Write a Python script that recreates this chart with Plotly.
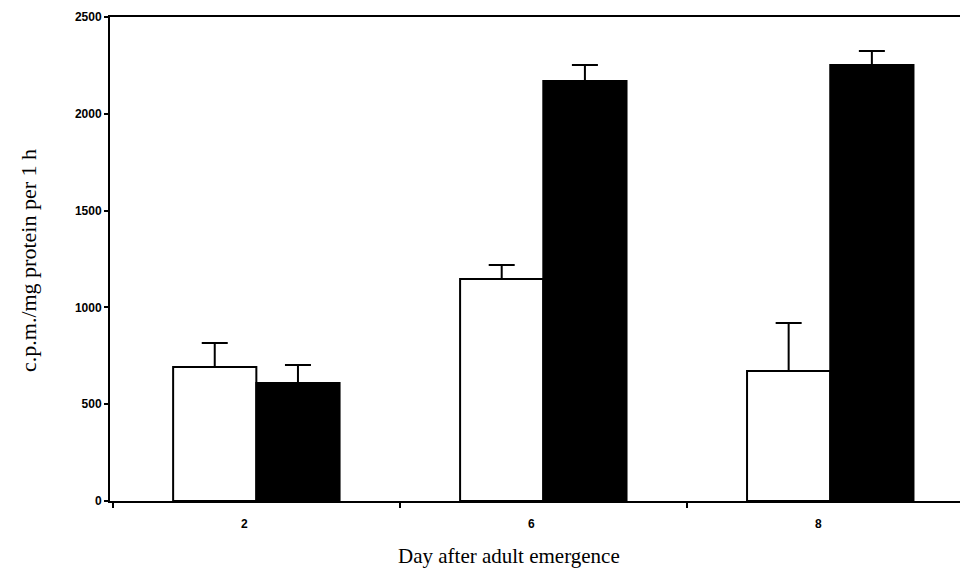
import plotly.graph_objects as go

days = ["2", "6", "8"]
open_vals = [692, 1147, 671]
open_err = [124, 72, 248]
filled_vals = [609, 2169, 2252]
filled_err = [93, 83, 72]
y_ticks = [0, 500, 1000, 1500, 2000, 2500]

err_style = dict(type="data", symmetric=False, color="black", thickness=2, width=13)

fig = go.Figure()
fig.add_trace(go.Bar(
    x=days, y=open_vals, name="open",
    marker=dict(color="white", line=dict(color="black", width=2)),
    error_y=dict(array=open_err, arrayminus=[0] * len(open_err), **err_style),
))
fig.add_trace(go.Bar(
    x=days, y=filled_vals, name="filled",
    marker=dict(color="black", line=dict(color="black", width=2)),
    error_y=dict(array=filled_err, arrayminus=[0] * len(filled_err), **err_style),
))

# page body has an 8px default margin; figure is sized/offset to compensate
L, T, B = 110, 17, 501
OFF = 8
fig.update_layout(
    width=968 - OFF, height=572 - OFF,
    margin=dict(l=L - OFF, r=0, t=T - OFF, b=572 - B),
    paper_bgcolor="white", plot_bgcolor="white",
    barmode="group", bargap=0.42, bargroupgap=0,
    showlegend=False,
    font=dict(family="Liberation Serif", color="black"),
    annotations=[
        dict(text="Day after adult emergence", xref="paper", yref="paper",
             x=(509 - L) / 858, y=-(556 - B) / (B - T), xanchor="center", yanchor="middle",
             showarrow=False, font=dict(size=21, family="Liberation Serif", color="black")),
        dict(text="c.p.m./mg protein per 1 h", xref="paper", yref="paper",
             x=-(L - 28) / 858, y=(B - 261) / (B - T), xanchor="center", yanchor="middle",
             textangle=-90, showarrow=False,
             font=dict(size=22, family="Liberation Serif", color="black")),
    ],
)
fig.update_xaxes(
    type="category", range=[-0.51, 2.48], automargin=False,
    showline=True, linecolor="black", linewidth=2, mirror=True,
    ticks="outside", ticklen=5, tickcolor="black", tickwidth=1.5,
    tickson="boundaries", showgrid=False,
    ticklabelshift=-12, ticklabelstandoff=11,
    tickfont=dict(family="Liberation Sans", size=12, weight="bold"),
)
fig.update_yaxes(
    range=[0, 2500], tickvals=y_ticks, automargin=False,
    showline=True, linecolor="black", linewidth=2, mirror=False,
    ticks="outside", ticklen=4, tickcolor="black", tickwidth=1.5,
    showgrid=False, zeroline=False,
    tickfont=dict(family="Liberation Sans", size=12, weight="bold"),
)

fig.write_html("out.html")
